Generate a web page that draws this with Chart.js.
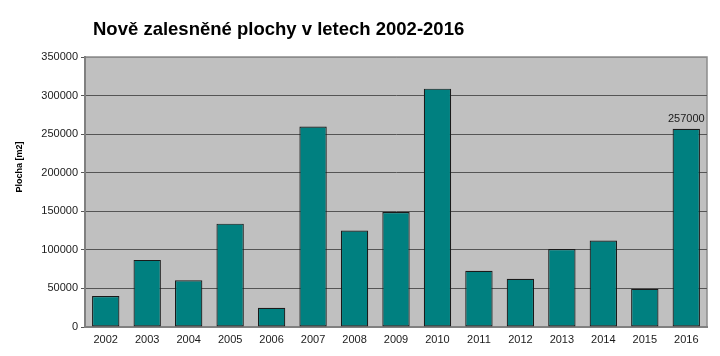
<!DOCTYPE html>
<html>
<head>
<meta charset="utf-8">
<script src="https://cdn.jsdelivr.net/npm/chart.js@4/dist/chart.umd.min.js"></script>
<style>
html,body{margin:0;padding:0;background:#fff;}
#wrap{width:720px;height:356px;position:relative;}
</style>
</head>
<body>
<div id="wrap"><canvas id="c" width="720" height="356"></canvas></div>
<script>
const titleText = 'Nově zalesněné plochy v letech 2002-2016';
const yAxisTitle = 'Plocha [m2]';
const years = ['2002','2003','2004','2005','2006','2007','2008','2009','2010','2011','2012','2013','2014','2015','2016'];
const area = [40200, 87000, 60500, 134000, 25000, 260000, 125000, 149000, 309000, 73000, 62600, 101000, 112000, 49500, 257000];
const labelledIndex = [14];
const yMin = 0, yMax = 350000, yStep = 50000;

const plotBg = {
  id: 'plotBg',
  beforeDraw(chart) {
    const {ctx, chartArea: a} = chart;
    ctx.save();
    ctx.fillStyle = '#c0c0c0';
    ctx.fillRect(a.left, a.top, a.right - a.left, a.bottom - a.top);
    ctx.strokeStyle = '#8c8c8c';
    ctx.lineWidth = 1.5;
    ctx.strokeRect(a.left, a.top, a.right - a.left, a.bottom - a.top);
    ctx.restore();
  },
  afterDraw(chart) {
    const {ctx} = chart;
    ctx.save();
    ctx.font = 'bold 18.5px "Liberation Sans", Arial, sans-serif';
    ctx.fillStyle = '#000';
    ctx.textBaseline = 'alphabetic';
    ctx.textAlign = 'left';
    ctx.fillText(titleText, 93, 35);

    ctx.save();
    ctx.translate(20, 167);
    ctx.rotate(-Math.PI / 2);
    ctx.font = 'bold 9px "Liberation Sans", Arial, sans-serif';
    ctx.textAlign = 'center';
    ctx.textBaseline = 'middle';
    ctx.fillText(yAxisTitle, 0, 0);
    ctx.restore();

    const meta = chart.getDatasetMeta(0);
    ctx.font = '11px "Liberation Sans", Arial, sans-serif';
    ctx.fillStyle = '#1a1a1a';
    ctx.textAlign = 'center';
    ctx.textBaseline = 'bottom';
    labelledIndex.forEach(i => {
      const el = meta.data[i];
      ctx.fillText(String(area[i]), el.x, el.y - 4);
    });
    ctx.restore();
  }
};

new Chart(document.getElementById('c'), {
  type: 'bar',
  data: {
    labels: years,
    datasets: [{
      data: area,
      backgroundColor: '#008080',
      borderColor: '#1a1a1a',
      borderWidth: 1.2,
      borderSkipped: false,
      barPercentage: 0.66,
      categoryPercentage: 1.0
    }]
  },
  options: {
    responsive: false,
    animation: false,
    devicePixelRatio: 1,
    layout: { padding: { left: 0, right: 13, top: 57, bottom: 0 } },
    plugins: {
      legend: { display: false },
      tooltip: { enabled: false },
      title: { display: false }
    },
    scales: {
      x: {
        grid: { display: false, drawTicks: false },
        border: { display: true, color: '#808080', width: 2 },
        ticks: {
          color: '#1a1a1a',
          font: { family: '"Liberation Sans", Arial, sans-serif', size: 11 },
          padding: 6,
          maxRotation: 0
        },
        afterFit(s) { s.height = 29; }
      },
      y: {
        min: yMin,
        max: yMax,
        ticks: {
          stepSize: yStep,
          color: '#1a1a1a',
          font: { family: '"Liberation Sans", Arial, sans-serif', size: 11 },
          padding: 3,
          callback: (v) => String(v)
        },
        grid: {
          color: (ctx) => ctx.tick && ctx.tick.value === yMax ? '#8c8c8c' : '#555555',
          lineWidth: 1,
          tickLength: 4,
          tickColor: '#555555'
        },
        border: { display: true, color: '#808080', width: 2 },
        title: { display: false },
        afterFit(s) { s.width = 85; }
      }
    }
  },
  plugins: [plotBg]
});
</script>
</body>
</html>
